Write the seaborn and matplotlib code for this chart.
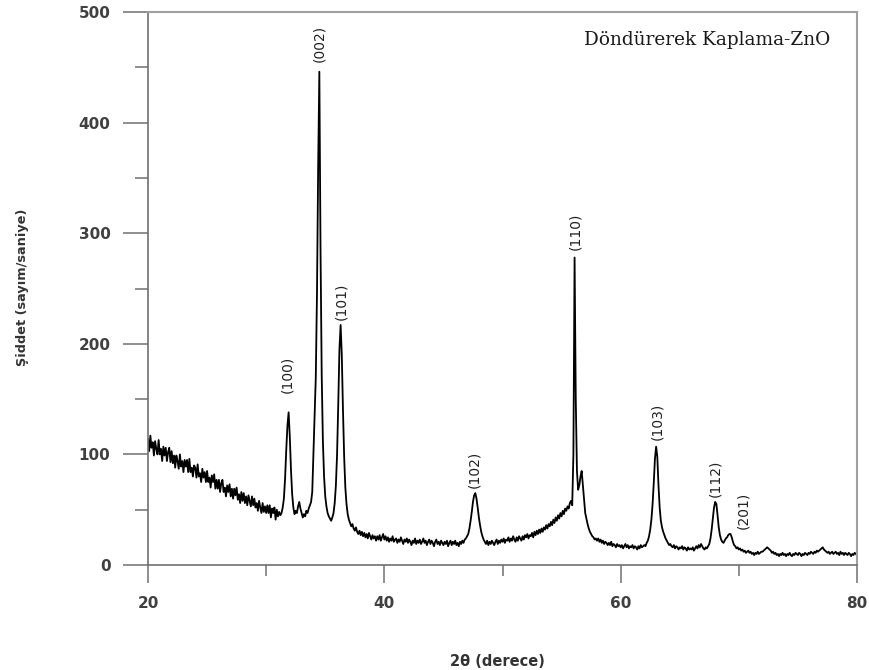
import numpy as np
import pandas as pd
import matplotlib
matplotlib.use("Agg")
import matplotlib.pyplot as plt
import seaborn as sns
from matplotlib.ticker import MultipleLocator

# ---------------------------------------------------------------
# XRD scan of a spin-coated ZnO film: 2θ from 20° to 80°, 0.1° step
# ---------------------------------------------------------------
two_theta = np.round(np.arange(200, 801) / 10.0, 1)

# Measured intensity (counts/s), one list per 10° block of the scan
counts_20_30 = [
    114, 103, 117, 106, 111, 99, 112, 105, 100, 113,
    100, 105, 94, 107, 99, 106, 94, 102, 106, 93,
    103, 92, 99, 88, 99, 94, 87, 100, 89, 94,
    84, 95, 89, 95, 84, 96, 84, 88, 80, 90,
    88, 79, 91, 80, 83, 75, 87, 79, 84, 75,
    85, 75, 79, 70, 81, 75, 82, 69, 77, 69,
    77, 66, 74, 77, 66, 70, 62, 72, 66, 73,
    62, 69, 60, 69, 63, 70, 59, 64, 56, 66,
    58, 65, 56, 62, 54, 63, 58, 53, 62, 54,
    60, 52, 56, 49, 58, 52, 47, 56, 48, 53,
]
counts_30_40 = [
    47, 54, 47, 54, 43, 51, 47, 52, 41, 50,
    44, 48, 45, 47, 52, 60, 78, 104, 126, 138,
    116, 86, 64, 52, 46, 49, 47, 53, 57, 51,
    47, 43, 46, 44, 49, 47, 51, 54, 57, 66,
    100, 135, 170, 245, 360, 446, 285, 172, 112, 80,
    62, 53, 47, 44, 42, 40, 43, 47, 56, 72,
    100, 145, 195, 217, 190, 140, 98, 70, 55, 46,
    41, 38, 35, 37, 33, 31, 34, 30, 28, 31,
    27, 30, 26, 29, 25, 28, 24, 29, 26, 23,
    27, 24, 26, 22, 26, 23, 27, 22, 25, 28,
]
counts_40_50 = [
    23, 26, 22, 25, 21, 24, 22, 26, 21, 23,
    24, 20, 23, 21, 25, 22, 19, 23, 21, 24,
    20, 23, 21, 18, 22, 20, 24, 19, 22, 20,
    23, 19, 21, 24, 20, 22, 18, 21, 23, 19,
    22, 20, 17, 21, 23, 19, 21, 18, 22, 20,
    18, 21, 19, 22, 17, 20, 22, 18, 21, 19,
    22, 18, 20, 17, 21, 19, 22, 20, 23, 24,
    26, 28, 33, 40, 48, 57, 63, 65, 60, 52,
    43, 36, 30, 26, 23, 21, 19, 22, 18, 21,
    19, 22, 20, 18, 21, 23, 19, 22, 20, 23,
]
counts_50_60 = [
    21, 24, 20, 23, 22, 25, 21, 24, 22, 26,
    23, 21, 25, 22, 26, 24, 22, 26, 23, 27,
    25, 28, 24, 27, 26, 29, 25, 30, 27, 31,
    28, 32, 29, 33, 30, 34, 32, 36, 33, 37,
    35, 39, 36, 41, 38, 43, 40, 45, 42, 47,
    44, 49, 46, 51, 49, 53, 51, 56, 58, 54,
    100, 278, 150, 85, 68, 72, 80, 85, 72, 58,
    47, 42, 37, 33, 30, 28, 26, 25, 23, 24,
    22, 24, 21, 23, 20, 22, 19, 21, 20, 18,
    20, 18, 21, 17, 19, 18, 16, 19, 17, 18,
]
counts_60_70 = [
    16, 18, 15, 17, 19, 16, 18, 15, 17, 16,
    18, 15, 17, 16, 14, 17, 15, 18, 16, 17,
    18, 17, 20, 22, 26, 32, 41, 55, 74, 96,
    107, 98, 72, 52, 40, 34, 30, 27, 24, 22,
    20, 18, 19, 17, 16, 18, 15, 17, 16, 14,
    16, 15, 17, 14, 16, 15, 13, 16, 14, 15,
    14, 16, 13, 15, 17, 15, 18, 16, 19, 17,
    15, 14, 16, 15, 17, 19, 24, 32, 42, 52,
    57, 55, 45, 34, 27, 23, 21, 20, 22, 24,
    25, 27, 28, 28, 25, 21, 18, 17, 15, 16,
]
counts_70_80 = [
    14, 15, 13, 14, 12, 13, 11, 12, 13, 11,
    12, 10, 11, 9, 11, 10, 12, 10, 11, 12,
    12, 13, 14, 15, 16, 15, 14, 13, 11, 12,
    10, 11, 9, 10, 8, 10, 9, 11, 9, 10,
    8, 10, 9, 11, 9, 8, 10, 9, 11, 10,
    9, 11, 10, 8, 10, 9, 11, 10, 9, 11,
    10, 12, 11, 10, 12, 11, 13, 12, 13, 14,
    15, 16, 14, 13, 12, 11, 12, 10, 11, 12,
    10, 11, 12, 10, 11, 9, 12, 10, 11, 9,
    11, 10, 9, 11, 10, 8, 10, 9, 11, 10,
    9,
]

intensity = np.concatenate([counts_20_30, counts_30_40, counts_40_50,
                            counts_50_60, counts_60_70, counts_70_80])

# Indexed reflections of wurtzite ZnO
peak_hkl = ["(100)", "(002)", "(101)", "(102)", "(110)", "(103)", "(112)", "(201)"]
peak_2theta = [31.9, 34.5, 36.3, 47.7, 56.1, 63.0, 68.0, 69.3]

# Axis ticks
x_ticks = [20, 40, 60, 80]
y_ticks = [0, 100, 200, 300, 400, 500]

# Label placement (text centre in 2θ, gap above the peak top in counts/s)
label_x = [31.78, 34.47, 36.33, 47.63, 56.14, 63.12, 68.02, 70.40]
label_gap = [17.5, 8.5, 4.5, 4.6, 7.0, 6.0, 4.8, 5.0]

df = pd.DataFrame({"two_theta": two_theta, "intensity": intensity})

sns.set_style("ticks")
plt.rcParams["font.family"] = ["DejaVu Sans"]

W, H = 869, 670
fig = plt.figure(figsize=(W / 100, H / 100), dpi=100)
ax = fig.add_axes([148 / W, 1 - 565 / H, 709 / W, 553 / H])

sns.lineplot(data=df, x="two_theta", y="intensity", ax=ax, color="black",
             linewidth=1.3, estimator=None, sort=False)

ax.set_xlim(20, 80)
ax.set_ylim(0, 500)
ax.set_xlabel("")
ax.set_ylabel("")

tick_color = "#707070"
ax.set_xticks(x_ticks, labels=[str(t) for t in x_ticks], fontweight="bold")
ax.set_yticks(y_ticks, labels=[str(t) for t in y_ticks], fontweight="bold")
ax.xaxis.set_minor_locator(MultipleLocator(10))
ax.yaxis.set_minor_locator(MultipleLocator(50))
ax.tick_params(axis="y", which="major", direction="out", length=18, width=1.1,
               color=tick_color, pad=9, labelsize=11, labelcolor="#404040")
ax.tick_params(axis="y", which="minor", direction="out", length=9.4, width=1.1,
               color=tick_color)
ax.tick_params(axis="x", which="major", direction="out", length=13, width=1.1,
               color=tick_color, pad=9, labelsize=11, labelcolor="#404040")
ax.tick_params(axis="x", which="minor", direction="out", length=7.8, width=1.1,
               color=tick_color)

for side in ("left", "bottom"):
    ax.spines[side].set_color(tick_color)
    ax.spines[side].set_linewidth(1.2)
for side in ("top", "right"):
    ax.spines[side].set_visible(True)
    ax.spines[side].set_color("#a0a0a0")
    ax.spines[side].set_linewidth(1.5)

# Miller-index labels above each reflection
lookup = dict(zip(two_theta, intensity))
for hkl, pos, lx, gap in zip(peak_hkl, peak_2theta, label_x, label_gap):
    ax.text(lx, lookup[round(pos, 1)] + gap, hkl, rotation=90,
            ha="center", va="bottom", fontsize=10, color="#222222")

ax.text(0.788, 0.94, "Döndürerek Kaplama-ZnO", transform=ax.transAxes,
        ha="center", va="baseline", fontsize=13.3, family="DejaVu Serif",
        color="#1a1a1a")

fig.text(23 / W, 1 - 287 / H, "Şiddet (sayım/saniye)", rotation=90,
         ha="center", va="center", fontsize=9.3, fontweight="bold", color="#333333")
fig.text(497 / W, 1 - 661 / H, "2θ (derece)", ha="center", va="center",
         fontsize=10.5, fontweight="bold", color="#333333")

fig.savefig("out.png", dpi=100)
